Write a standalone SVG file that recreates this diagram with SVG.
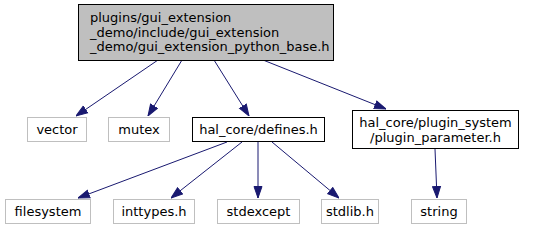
<svg xmlns="http://www.w3.org/2000/svg" width="556" height="231" viewBox="0 0 556 231">
<style>
text{font-family:"DejaVu Sans",sans-serif;font-size:13px;fill:#000}
.c{text-anchor:middle}
.g{fill:#fff;stroke:#bfbfbf;stroke-width:1}
.b{fill:#fff;stroke:#000;stroke-width:1}
.e{stroke:#191970;stroke-width:1;fill:none;marker-end:url(#ah)}
</style>
<defs>
<marker id="ah" markerUnits="userSpaceOnUse" markerWidth="12" markerHeight="10" refX="12" refY="5" orient="auto">
<path d="M0.5,1 L12,5 L0.5,9 z" fill="#191970" stroke="#191970" stroke-width="1"/>
</marker>
</defs>
<g id="edges">
<line class="e" x1="158" y1="60" x2="76" y2="116"/>
<line class="e" x1="182" y1="60" x2="148" y2="116"/>
<line class="e" x1="214" y1="60" x2="249" y2="116"/>
<line class="e" x1="263" y1="60" x2="386" y2="109"/>
<line class="e" x1="227" y1="142" x2="78" y2="198"/>
<line class="e" x1="242" y1="142" x2="171" y2="198"/>
<line class="e" x1="258" y1="142" x2="258" y2="198"/>
<line class="e" x1="272" y1="142" x2="339" y2="198"/>
<line class="e" x1="435" y1="149" x2="437" y2="198"/>
</g>
<g id="node_main">
<rect x="78.5" y="4.5" width="255" height="56" fill="#bfbfbf" stroke="#000"/>
<text x="90" y="22">plugins/gui_extension</text>
<text x="90" y="36.5">_demo/include/gui_extension</text>
<text x="90" y="51">_demo/gui_extension_python_base.h</text>
</g>
<g id="node_vector">
<rect class="g" x="27.5" y="117.5" width="59" height="24"/>
<text class="c" x="57" y="134">vector</text>
</g>
<g id="node_mutex">
<rect class="g" x="108.5" y="117.5" width="61" height="24"/>
<text class="c" x="139" y="134">mutex</text>
</g>
<g id="node_defines">
<rect class="b" x="192.5" y="117.5" width="132" height="24"/>
<text class="c" x="258.5" y="134">hal_core/defines.h</text>
</g>
<g id="node_plugin_parameter">
<rect class="b" x="352.5" y="110.5" width="166" height="38"/>
<text class="c" x="435.5" y="127">hal_core/plugin_system</text>
<text class="c" x="435.5" y="141.5">/plugin_parameter.h</text>
</g>
<g id="node_filesystem">
<rect class="g" x="5.5" y="199.5" width="85" height="24"/>
<text class="c" x="48" y="215.5">filesystem</text>
</g>
<g id="node_inttypes">
<rect class="g" x="113.5" y="199.5" width="81" height="24"/>
<text class="c" x="154" y="215.5">inttypes.h</text>
</g>
<g id="node_stdexcept">
<rect class="g" x="217.5" y="199.5" width="82" height="24"/>
<text class="c" x="258.5" y="215.5">stdexcept</text>
</g>
<g id="node_stdlib">
<rect class="g" x="321.5" y="199.5" width="57" height="24"/>
<text class="c" x="350" y="215.5">stdlib.h</text>
</g>
<g id="node_string">
<rect class="g" x="411.5" y="199.5" width="55" height="24"/>
<text class="c" x="439" y="215.5">string</text>
</g>
</svg>
